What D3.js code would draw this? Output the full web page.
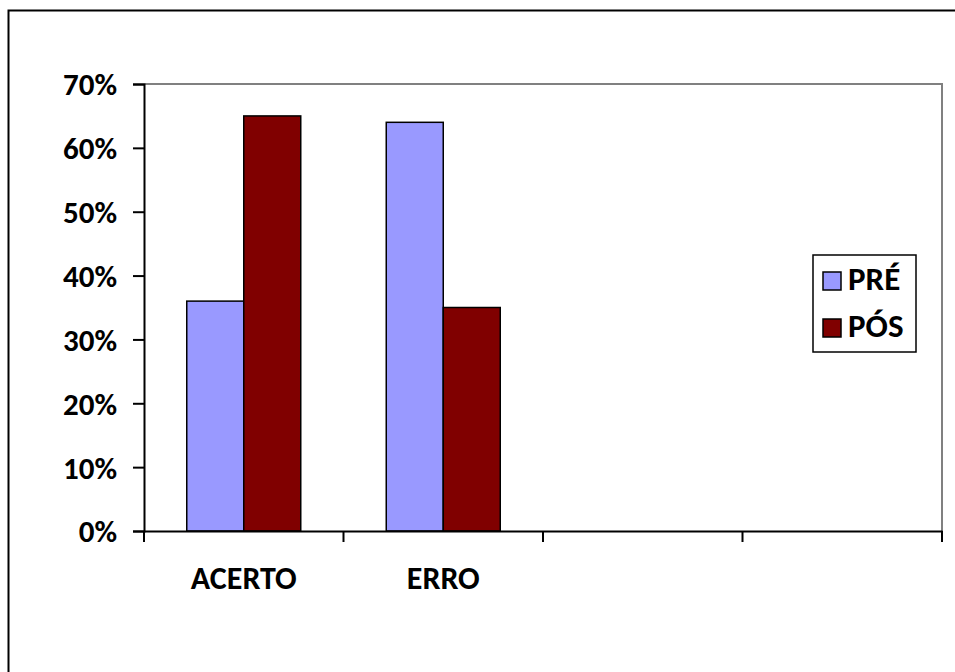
<!DOCTYPE html>
<html><head><meta charset="utf-8">
<script src="https://cdn.jsdelivr.net/npm/d3@7"></script>
<style>
html,body{margin:0;padding:0;background:#fff;}
svg{display:block;}
text{font-family:Carlito,Lato,"Open Sans",sans-serif;font-weight:bold;fill:#000;}
</style></head>
<body>
<script>
const categories = ["ACERTO", "ERRO", "", ""];
const seriesNames = ["PRÉ", "PÓS"];
const preValues = [0.36, 0.64];
const posValues = [0.65, 0.35];
const seriesColors = ["#9999FF", "#800000"];
const yTicks = [0, 0.1, 0.2, 0.3, 0.4, 0.5, 0.6, 0.7];

const W = 955, H = 672;
const svg = d3.select("body").append("svg").attr("width", W).attr("height", H);

// outer chart border
svg.append("rect").attr("x", 8.5).attr("y", 10.5).attr("width", 960).attr("height", 680)
  .attr("fill", "#fff").attr("stroke", "#000").attr("stroke-width", 2);

const plot = {left: 144, right: 942, top: 84, bottom: 531};
const x = d3.scaleBand().domain(d3.range(categories.length)).range([plot.left, plot.right]).paddingInner(0).paddingOuter(0);
const y = d3.scaleLinear().domain([0, 0.7]).range([plot.bottom, plot.top]);

// plot area border (gray top/right)
svg.append("path").attr("d", `M${plot.left},${plot.top}H${plot.right}V${plot.bottom}`)
  .attr("fill", "none").attr("stroke", "#808080").attr("stroke-width", 2);

// bars
const bw = x.bandwidth() / (2 + 1.5);
const sub = d3.scaleBand().domain([0, 1]).range([0, 2 * bw]);
const rows = [];
[preValues, posValues].forEach((vals, s) => vals.forEach((v, i) => rows.push({i, s, v})));
svg.append("g").selectAll("rect").data(rows).join("rect")
  .attr("x", d => x(d.i) + 0.75 * bw + sub(d.s))
  .attr("y", d => y(d.v))
  .attr("width", sub.bandwidth())
  .attr("height", d => y(0) - y(d.v))
  .attr("fill", d => seriesColors[d.s])
  .attr("stroke", "#000").attr("stroke-width", 1.5);

// y axis
const yAxis = d3.axisLeft(y).tickValues(yTicks).tickFormat(d3.format(".0%")).tickSize(11).tickPadding(16);
const gy = svg.append("g").attr("transform", `translate(${plot.left},0)`).call(yAxis);
gy.select(".domain").attr("stroke", "#000").attr("stroke-width", 2);
gy.selectAll(".tick line").attr("stroke", "#000").attr("stroke-width", 2);
gy.selectAll(".tick text").style("font-size", "31px").attr("dy", "0.35em");

// x axis
const xAxis = d3.axisBottom(x).tickSize(0).tickFormat(i => categories[i]);
const gx = svg.append("g").attr("transform", `translate(0,${plot.bottom})`).call(xAxis);
gx.select(".domain").attr("stroke", "#000").attr("stroke-width", 2);
gx.selectAll(".tick text").style("font-size", "32px").attr("y", 58).attr("dy", 0);
// category boundary ticks
const bounds = d3.range(categories.length + 1).map(i => i < categories.length ? x(i) : plot.right);
gx.selectAll(".bt").data(bounds).join("line").attr("class", "bt")
  .attr("x1", d => d).attr("x2", d => d).attr("y1", 0).attr("y2", 11)
  .attr("stroke", "#000").attr("stroke-width", 2);

// legend
const lg = svg.append("g").attr("transform", "translate(813,255)");
lg.append("rect").attr("width", 103).attr("height", 97).attr("fill", "#fff").attr("stroke", "#000").attr("stroke-width", 1.5);
seriesNames.forEach((n, s) => {
  const g = lg.append("g").attr("transform", `translate(10,${17 + s * 47})`);
  g.append("rect").attr("width", 18).attr("height", 18).attr("fill", seriesColors[s]).attr("stroke", "#000").attr("stroke-width", 1.5);
  g.append("text").attr("x", 25).attr("y", 18).style("font-size", "33px").text(n);
});
</script>
</body></html>
